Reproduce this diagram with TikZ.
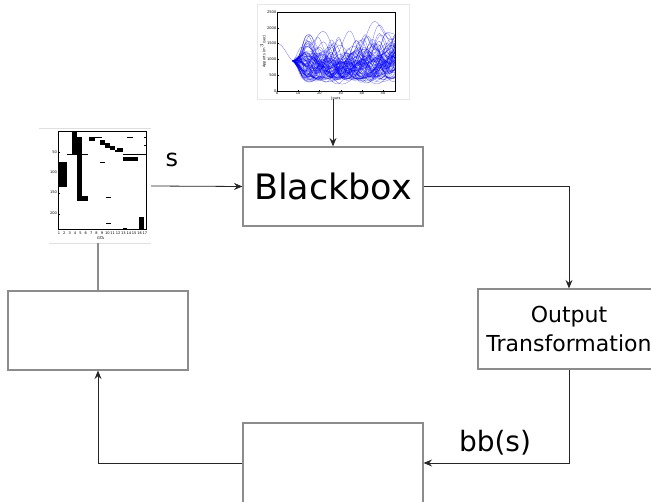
\documentclass[tikz,border=0pt]{standalone}
\usepackage{fontspec}
\setmainfont{DejaVu Sans}
\usetikzlibrary{arrows.meta}
\tikzset{
  box/.style={draw=gray!90, line width=1.2pt, fill=white, inner sep=0pt},
  conn/.style={draw=black!85, line width=0.8pt},
  arr/.style={conn, -{Stealth[length=8.5pt,width=7pt,inset=3pt]}},
  curve/.style={blue, line width=0.25pt, opacity=0.65},
  tick/.style={font=\fontsize{3.6}{4}\selectfont, inner sep=0.5pt},
  blk/.style={fill=black, draw=none},
  frameline/.style={draw=gray!25, line width=0.6pt}
}
\begin{document}
\begin{tikzpicture}[x=1pt,y=-1pt]
\useasboundingbox (0,0) rectangle (651,502);
\fill[white] (0,0) rectangle (651,502);

% ---------- boxes ----------
\node[box, minimum width=180pt, minimum height=79pt, font=\fontsize{35}{40}\selectfont] (bb) at (333,186.5) {Blackbox};
\node[box, minimum width=182pt, minimum height=80pt, align=center, font=\fontsize{22}{29}\selectfont] (out) at (569,329) {Output\\Transformation};
\node[box, minimum width=180pt, minimum height=80pt] (bot) at (333,463) {};
\node[box, minimum width=180pt, minimum height=79pt] (lft) at (98,330.5) {};

% ---------- image placeholders ----------
\node[draw=gray!18, line width=0.5pt, minimum width=152pt, minimum height=95pt, inner sep=0pt] (plotimg) at (333,51.5) {};
\node[minimum width=112pt, minimum height=114pt, inner sep=0pt] (matimg) at (95,186) {};
\draw[frameline] (matimg.north west) -- (matimg.north east);
\draw[frameline] ([xshift=10pt]matimg.south west) -- (matimg.south east);

% ---------- time-series plot ----------
\begin{scope}[shift={(277,91)}, x=2.12pt, y=0.0316pt]
  \begin{scope}
    \clip (0,0) rectangle (55.6,2500);
    \pgfmathsetseed{4242}
    \foreach \i in {1,...,80}{
      \pgfmathsetmacro\A{80+rnd*400}
      \pgfmathsetmacro\P{360/(11+rnd*16)}
      \pgfmathsetmacro\ph{rnd*360}
      \pgfmathsetmacro\S{-8+rnd*17}
      \pgfmathsetmacro\B{rnd*220}
      \pgfmathsetmacro\Q{360/(6+rnd*6)}
      \pgfmathsetmacro\qh{rnd*360}
      \draw[curve] plot[domain=7.5:56, samples=45, smooth]
        (\x,{max(320+0.3*(950-20*(\x-7.5)+0.45*(\x-7.5)*(\x-7.5)+\S*(\x-7.5)
             +\A*(sin(\P*(\x-7.5)+\ph)-sin(\ph))*min(1,(\x-7.5)/8+0.3)
             +\B*(sin(\Q*(\x-7.5)+\qh)-sin(\qh))*min(1,(\x-7.5)/10)),
             950-20*(\x-7.5)+0.45*(\x-7.5)*(\x-7.5)+\S*(\x-7.5)
             +\A*(sin(\P*(\x-7.5)+\ph)-sin(\ph))*min(1,(\x-7.5)/8+0.3)
             +\B*(sin(\Q*(\x-7.5)+\qh)-sin(\qh))*min(1,(\x-7.5)/10))});
    }
    \draw[curve] (0,1500) .. controls (3,1520) and (5,1050) .. (7.5,950);
  \end{scope}
  \draw[line width=0.3pt] (0,0) rectangle (55.6,2500);
  \foreach \v in {0,500,1000,1500,2000,2500}{
    \draw[line width=0.2pt] (0,\v) -- (0.8,\v);
    \node[tick, anchor=east] at (0,\v) {\v};
  }
  \foreach \v in {0,10,20,30,40,50}{
    \draw[line width=0.2pt] (\v,0) -- (\v,40);
    \node[tick, anchor=north] at (\v,0) {\v};
  }
  \node[tick] at (27.8,-230) {Jours};
  \node[tick, rotate=90] at (-6.5,1250) {Apports (m$^3$/sec)};
\end{scope}

% ---------- matrix plot (zoom coordinates) ----------
\begin{scope}[shift={(40,125)}, x=0.3333pt, y=-0.3333pt]
  \fill[blk] (97,18) rectangle (112,90);
  \fill[blk] (112,35) rectangle (127,228);
  \fill[blk] (127,213) rectangle (145,228);
  \fill[blk] (55,112) rectangle (80,185);
  \fill[blk] (80,86.5) rectangle (145,89.5);
  \fill[blk] (148,35) rectangle (165,47);
  \fill[blk] (165,37) rectangle (185,40);
  \fill[blk] (180,45) rectangle (195,60);
  \fill[blk] (195,55) rectangle (210,70);
  \fill[blk] (210,62) rectangle (225,75);
  \fill[blk] (230,68) rectangle (248,80);
  \fill[blk] (225,75) rectangle (230,80);
  \fill[blk] (248,95) rectangle (295,108);
  \fill[blk] (248,86) rectangle (318,89);
  \fill[blk] (262,37) rectangle (278,40);
  \fill[blk] (313,35) rectangle (318,40);
  \fill[blk] (313,60) rectangle (318,64);
  \fill[blk] (180,112) rectangle (195,115.5);
  \fill[blk] (198,217) rectangle (213,220.5);
  \fill[blk] (198,294) rectangle (213,297.5);
  \fill[blk] (248,309) rectangle (262,312);
  \fill[blk] (297,275) rectangle (313,313);
  \draw[line width=0.3pt] (55,18) rectangle (318,313);
  \foreach \v/\yy in {50/82,100/142,150/203,200/266}{
    \draw[line width=0.2pt] (55,\yy) -- (59,\yy);
    \node[tick, anchor=east] at (53,\yy) {\v};
  }
  \foreach \c in {1,...,17}{
    \node[tick] at ({57+(\c-1)*16.125},325) {\c};
  }
  \node[tick] at (182,340) {GTA};
\end{scope}

% ---------- connectors ----------
\draw[arr] (plotimg.south) -- (bb.north);
\draw[arr] (matimg.east) -- (bb.west);
\draw[arr] (bb.east) -| (out.north);
\draw[arr] (out.south) |- (bot.east);
\draw[arr] (bot.west) -| (lft.south);
\draw[draw=gray!90, line width=1.2pt] (matimg.south -| lft.north) -- (lft.north);

% ---------- labels ----------
\node[font=\fontsize{24}{28}\selectfont] (slab) at (172,160) {s};
\node[font=\fontsize{28}{32}\selectfont] (bblab) at (495,443) {bb(s)};
\end{tikzpicture}
\end{document}
